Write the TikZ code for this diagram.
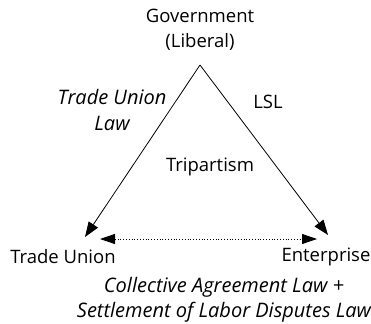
\documentclass[tikz,border=0pt]{standalone}
\usepackage{fontspec}
\setmainfont{Open Sans}
\usepackage{tikz}
\usetikzlibrary{arrows.meta}
\tikzset{label node/.style={inner sep=0pt,align=center,font=\fontsize{18.5pt}{25pt}\selectfont},
  law node/.style={label node,font=\fontsize{20pt}{25pt}\selectfont\itshape},
  tie/.style={line width=0.8pt,-{Triangle[length=15pt,width=11pt]}}}

\begin{document}
\begin{tikzpicture}[x=1pt,y=-1pt]
            \useasboundingbox (0,0) rectangle (371,323);
            % the three parties
            \node[label node] (gov) at (200,30) {Government\\(Liberal)};
            \node[label node] (tu) at (63,257) {Trade Union};
            \node[label node] (ent) at (326,257) {Enterprise};
            \node[label node] (tri) at (210,167) {Tripartism};

            % the laws
            \node[law node] (tul) at (112,110) {Trade Union\\Law};
            \node[label node] (lsl) at (268,102) {LSL};
            \node[law node] (cal) at (224,300) {Collective Agreement Law +\\Settlement of Labor Disputes Law};

            \coordinate (top) at (200,65);
            \coordinate (tuend) at (85,237);
            \coordinate (entend) at (328,235);
            \coordinate (tuside) at (100,239);
            \coordinate (entside) at (317,239);

            \draw[tie] (top) -- (tuend);
            \draw[tie] (top) -- (entend);
            \draw[tie,{Triangle[length=15pt,width=10pt]}-{Triangle[length=15pt,width=10pt]},dotted] (tuside) -- (entside);
        \end{tikzpicture}
\end{document}
